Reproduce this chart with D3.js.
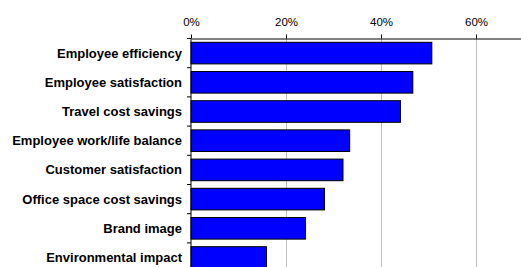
<!DOCTYPE html>
<html>
<head>
<meta charset="utf-8">
<script src="https://d3js.org/d3.v7.min.js"></script>
<style>
  body { margin: 0; background: #fff; }
  svg { display: block; }
</style>
</head>
<body>
<svg id="chart" width="521" height="267"></svg>
<script>
  var categories = ["Employee efficiency", "Employee satisfaction", "Travel cost savings",
    "Employee work/life balance", "Customer satisfaction", "Office space cost savings",
    "Brand image", "Environmental impact"];
  var values = [50.7, 46.7, 44.1, 33.4, 32.0, 28.1, 24.1, 15.9];
  var tickValues = [0, 20, 40, 60];

  var svg = d3.select("#chart");
  var plotLeft = 191, plotTop = 38.5, bandH = 29.2;

  var x = d3.scaleLinear()
    .domain([0, 70])
    .range([plotLeft, plotLeft + 70 * 4.75]);

  var y = d3.scaleBand()
    .domain(categories)
    .range([plotTop, plotTop + bandH * categories.length])
    .paddingInner(0.26)
    .paddingOuter(0.13);

  // gridlines
  svg.append("g").selectAll("line")
    .data(tickValues.filter(function(d) { return d > 0; }))
    .enter().append("line")
      .attr("x1", function(d) { return Math.round(x(d)) + 0.5; })
      .attr("x2", function(d) { return Math.round(x(d)) + 0.5; })
      .attr("y1", plotTop)
      .attr("y2", 267)
      .attr("stroke", "#c0c0c0")
      .attr("stroke-width", 1);

  // bars
  svg.append("g").selectAll("rect")
    .data(categories)
    .enter().append("rect")
      .attr("x", x(0))
      .attr("y", function(d) { return y(d); })
      .attr("width", function(d, i) { return x(values[i]) - x(0); })
      .attr("height", y.bandwidth())
      .attr("fill", "#0000ff")
      .attr("stroke", "#000")
      .attr("stroke-width", 1);

  // top axis
  var xAxis = svg.append("g")
    .attr("transform", "translate(0," + plotTop + ")")
    .call(d3.axisTop(x).tickValues(tickValues).tickSize(4).tickSizeOuter(0)
      .tickFormat(function(d) { return d + "%"; }));
  xAxis.select(".domain").attr("stroke", "#000");
  xAxis.selectAll("text")
    .attr("font-family", "Liberation Sans, Arial, sans-serif")
    .attr("font-size", 11.5)
    .attr("fill", "#000")
    .attr("y", -13)
    .attr("dy", 0);

  // left axis line with ticks at band boundaries
  svg.append("line")
    .attr("x1", x(0)).attr("x2", x(0))
    .attr("y1", plotTop).attr("y2", 267)
    .attr("stroke", "#000");
  svg.append("g").selectAll("line")
    .data(d3.range(categories.length + 1))
    .enter().append("line")
      .attr("x1", x(0) - 4).attr("x2", x(0))
      .attr("y1", function(i) { return plotTop + i * bandH; })
      .attr("y2", function(i) { return plotTop + i * bandH; })
      .attr("stroke", "#000");

  // category labels
  svg.append("g").selectAll("text")
    .data(categories)
    .enter().append("text")
      .attr("x", 182)
      .attr("y", function(d) { return y(d) + y.bandwidth() / 2; })
      .attr("dy", "0.35em")
      .attr("text-anchor", "end")
      .attr("font-family", "Liberation Sans, Arial, sans-serif")
      .attr("font-weight", "bold")
      .attr("font-size", 13)
      .text(function(d) { return d; });
</script>
</body>
</html>
